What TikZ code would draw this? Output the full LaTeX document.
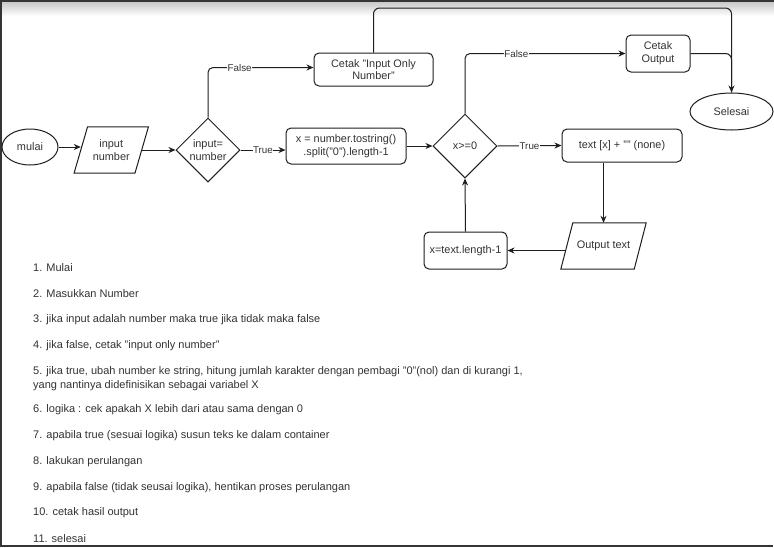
\documentclass[tikz,border=0pt]{standalone}
\usepackage{fontspec}
\setmainfont{Liberation Sans}
\usetikzlibrary{shapes.geometric,arrows.meta}
\definecolor{txt}{HTML}{333333}
\definecolor{ln}{HTML}{1E1E1E}
\begin{document}
\begin{tikzpicture}[x=1pt,y=-1pt,
  base/.style={draw=ln, line width=1pt, text=txt, font=\fontsize{10.9}{12.8}\selectfont, align=center, inner sep=0pt},
  rbox/.style={base, rectangle, rounded corners=5pt},
  ell/.style={base, ellipse},
  dia/.style={base, diamond},
  iobox/.style={rectangle, text=txt, font=\fontsize{10.9}{12.8}\selectfont, align=center, inner sep=0pt},
  line/.style={draw=ln, line width=1pt},
  arr/.style={line, -{Stealth[length=7pt,width=6pt]}},
  lbl/.style={fill=white, text=txt, font=\fontsize{9.8}{11}\selectfont, inner sep=0.5pt},
  item/.style={anchor=west, text=txt, font=\fontsize{11}{14}\selectfont, align=left, inner sep=0pt}
]
\useasboundingbox (0,0) rectangle (774,547);
\fill[white] (0,0) rectangle (774,547);
\shade[top color=black!22, bottom color=white] (0,1.5) rectangle (774,16);
\draw[ln!90, line width=2pt] (774,1) -- (1,1) -- (1,546) -- (773,546);

% nodes
\node[ell, minimum width=56, minimum height=36] (mulai) at (30,147) {mulai};
\node[iobox, minimum width=60.5, minimum height=46] (inp) at (111.25,150) {input\\number};
\draw[line] ([xshift=6.75pt]inp.north west) -- ([xshift=6.75pt]inp.north east)
  -- ([xshift=-6.75pt]inp.south east) -- ([xshift=-6.75pt]inp.south west) -- cycle;
\node[dia, minimum width=64, minimum height=64] (d1) at (208,150) {input=\\number};
\node[rbox, minimum width=119, minimum height=33] (cin) at (373.5,69.5) {Cetak "Input Only\\Number"};
\node[rbox, minimum width=120, minimum height=36] (xbox) at (346,146) {x = number.tostring()\\.split("0").length-1};
\node[dia, minimum width=64, minimum height=64] (d2) at (465,146) {x>=0};
\node[rbox, minimum width=64, minimum height=37] (cout) at (658,53.5) {Cetak\\Output};
\node[ell, minimum width=83, minimum height=37] (sel) at (731.5,111.5) {Selesai};
\node[rbox, minimum width=120, minimum height=33] (tbox) at (622,145.5) {text [x] + "" (none)};
\node[iobox, minimum width=73, minimum height=46] (otext) at (603.5,246) {Output text};
\draw[line] ([xshift=6pt]otext.north west) -- ([xshift=6pt]otext.north east)
  -- ([xshift=-6pt]otext.south east) -- ([xshift=-6pt]otext.south west) -- cycle;
\node[rbox, minimum width=83, minimum height=37] (xl) at (465.5,250.5) {x=text.length-1};

\coordinate (top) at (0,8);

% connectors
\draw[arr] (mulai.east) -- (mulai.east -| inp.west);
\draw[arr] (inp.east) -- (d1.west);
\draw[arr] (d1.east) -- node[lbl]{True} (d1.east -| xbox.west);
\draw[arr, rounded corners=5pt] (d1.north) |- node[lbl, pos=0.65]{False} ([yshift=2pt]cin.west);
\draw[arr, rounded corners=6pt] (cin.north) -- (cin.north |- top) -- (sel.north |- top) -- (sel.north);
\draw[arr] (xbox.east) -- (d2.west);
\draw[arr, rounded corners=5pt] (d2.north) |- node[lbl, pos=0.66]{False} (cout.west);
\draw[line, rounded corners=6pt] (cout.east) -| (sel.north);
\draw[arr] (d2.east) -- node[lbl]{True} (tbox.west);
\draw[arr] (otext.north |- tbox.south) -- (otext.north);
\draw[arr] ([xshift=-1pt]otext.west |- xl.east) -- (xl.east);
\draw[arr] (xl.north) -- (d2.south);

% list
\node[item] (l1) at (33,268) {1. Mulai};
\node[item] (l2) at (33,294) {2. Masukkan Number};
\node[item] (l3) at (33,320) {3. jika input adalah number maka true jika tidak maka false};
\node[item] (l4) at (33,346) {4. jika false, cetak "input only number"};
\node[item] (l5) at (33,379) {5. jika true, ubah number ke string, hitung jumlah karakter dengan pembagi "0"(nol) dan di kurangi 1,\\yang nantinya didefinisikan sebagai variabel X};
\node[item] (l6) at (33,410) {6. logika : cek apakah X lebih dari atau sama dengan 0};
\node[item] (l7) at (33,436) {7. apabila true (sesuai logika) susun teks ke dalam container};
\node[item] (l8) at (33,462) {8. lakukan perulangan};
\node[item] (l9) at (33,488) {9. apabila false (tidak seusai logika), hentikan proses perulangan};
\node[item] (l10) at (33,513) {10. cetak hasil output};
\node[item] (l11) at (33,539) {11. selesai};
\end{tikzpicture}
\end{document}
